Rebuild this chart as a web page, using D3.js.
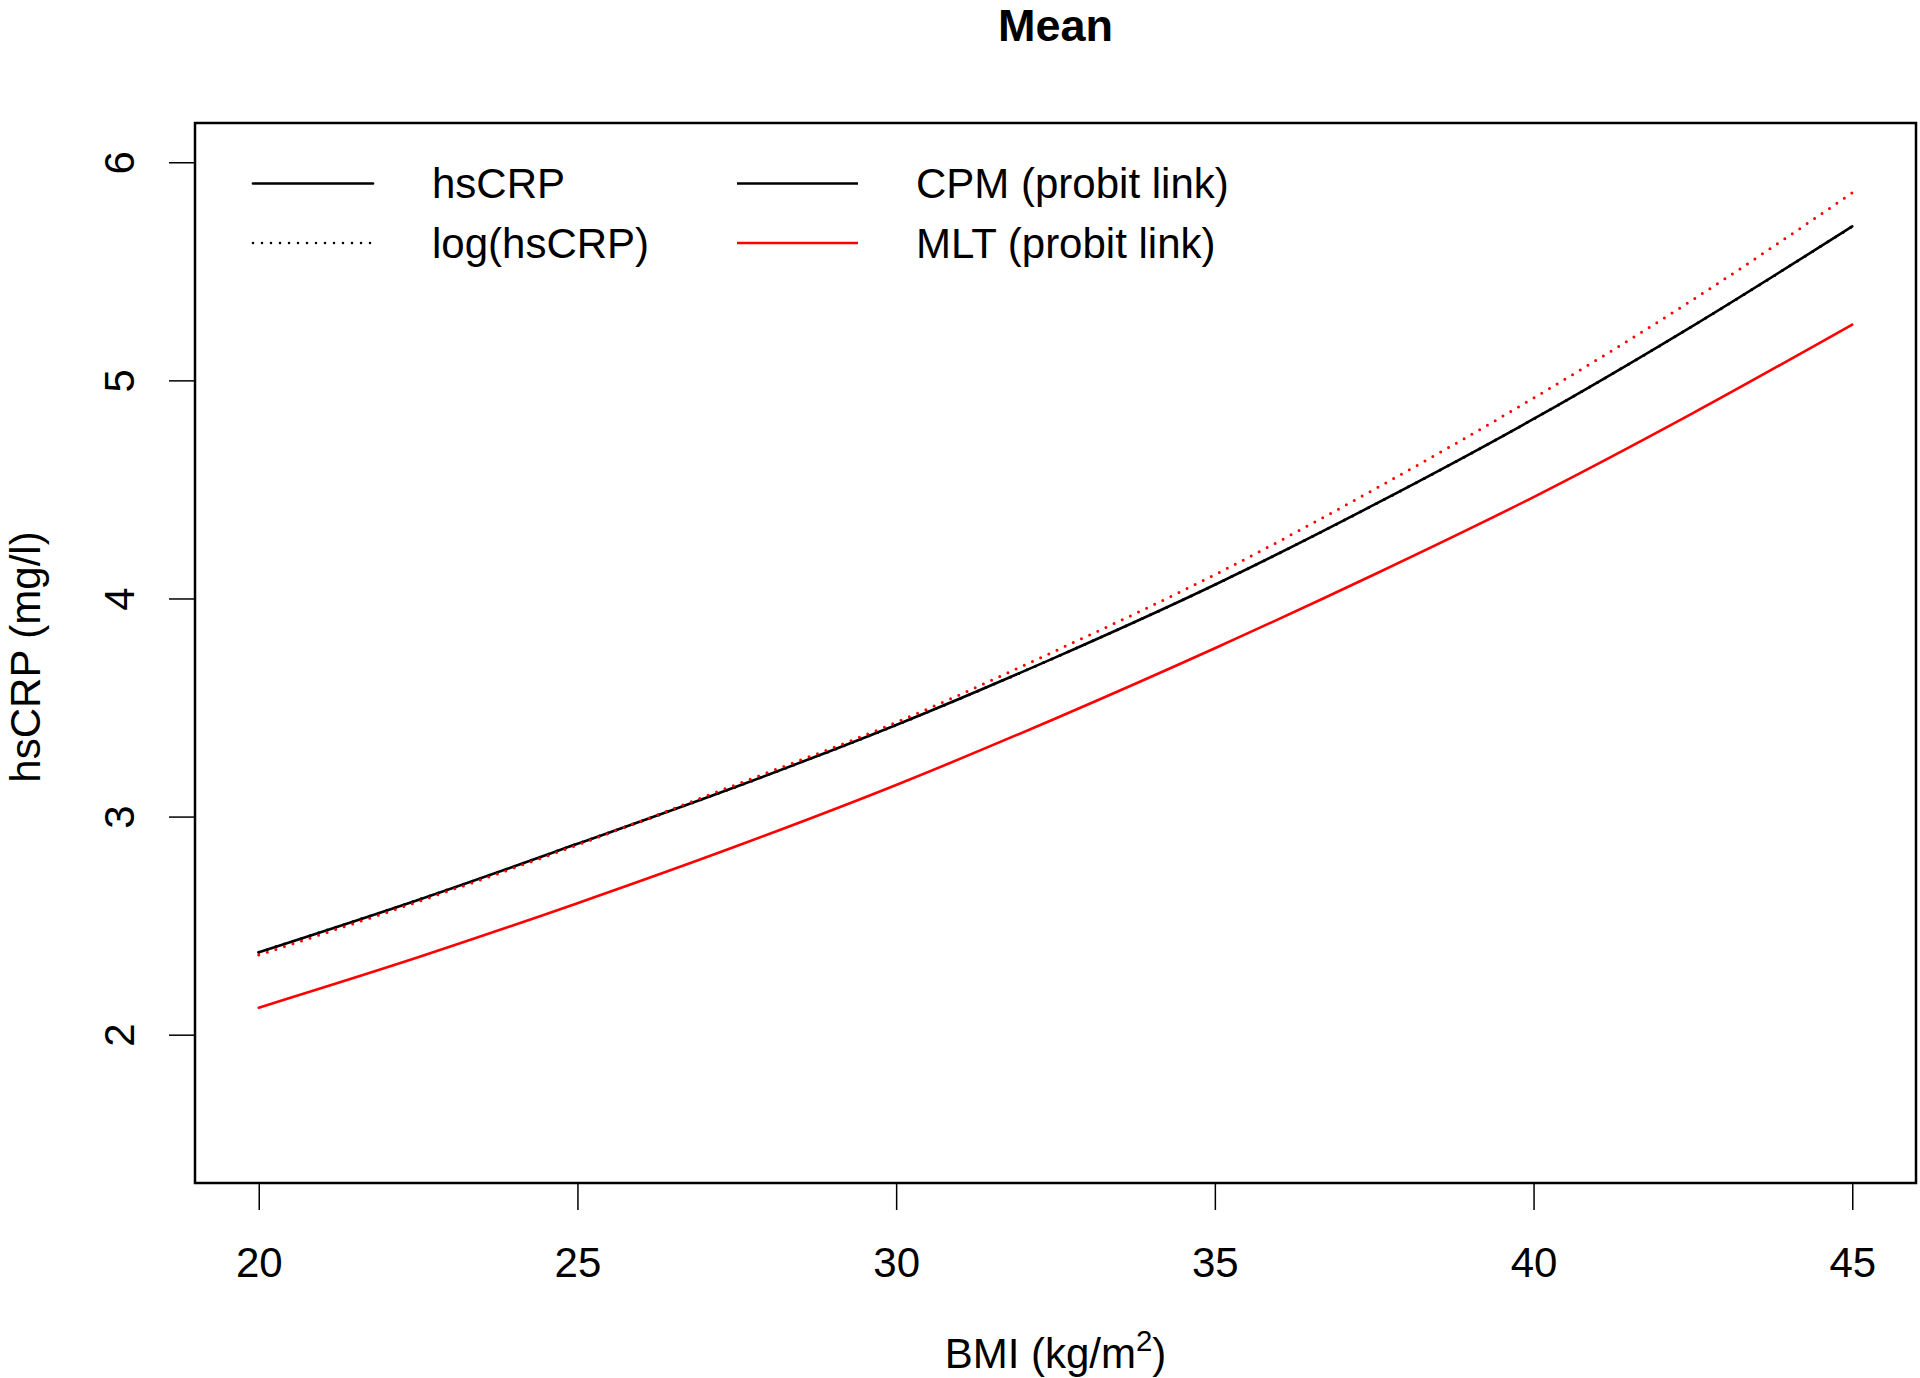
<!DOCTYPE html>
<html>
<head>
<meta charset="utf-8">
<script src="https://cdn.jsdelivr.net/npm/d3@7"></script>
<style>
  html, body { margin: 0; padding: 0; background: #fff; }
  svg { display: block; }
  text { font-family: "Liberation Sans", Arial, Helvetica, sans-serif; fill: #000; }
</style>
</head>
<body>
<svg id="chart" width="1920" height="1378"></svg>
<script>
// ---- data ----
const bmi = [20, 22.5, 25, 27.5, 30, 32.5, 35, 37.5, 40, 42.5, 45];
const cpmHsCRP    = [2.378, 2.618, 2.875, 3.138, 3.420, 3.730, 4.063, 4.430, 4.823, 5.250, 5.706];
const cpmLogHsCRP = [2.378, 2.618, 2.875, 3.138, 3.420, 3.730, 4.063, 4.430, 4.823, 5.250, 5.706];
const mltHsCRP    = [2.124, 2.355, 2.603, 2.865, 3.145, 3.450, 3.772, 4.110, 4.465, 4.850, 5.256];
const mltLogHsCRP = [2.365, 2.610, 2.870, 3.148, 3.432, 3.760, 4.109, 4.500, 4.919, 5.370, 5.860];
const xTicks = [20, 25, 30, 35, 40, 45];
const yTicks = [2, 3, 4, 5, 6];
const legendCol1 = ["hsCRP", "log(hsCRP)"];
const legendCol2 = ["CPM (probit link)", "MLT (probit link)"];

const svg = d3.select("#chart");
const L = 195, R = 1916, T = 123, B = 1183;
const FS = 42;

const x = d3.scaleLinear().domain([19, 46]).range([L, R]);
const y = d3.scaleLinear().domain([1.32, 6.18]).range([B, T]);

// box
svg.append("rect").attr("x", L).attr("y", T).attr("width", R - L).attr("height", B - T)
  .attr("fill", "none").attr("stroke", "#000").attr("stroke-width", 2.5);

// x axis
const xAxis = svg.append("g").attr("transform", `translate(0,${B})`)
  .call(d3.axisBottom(x).tickValues(xTicks).tickSize(27).tickPadding(37).tickFormat(d3.format("d")));
xAxis.select(".domain").remove();
xAxis.selectAll(".tick line").attr("stroke", "#000").attr("stroke-width", 1.5);
xAxis.selectAll(".tick text").attr("font-size", FS).attr("font-family", "Liberation Sans, Arial, sans-serif").attr("fill", "#000");

// y axis
const yAxis = svg.append("g").attr("transform", `translate(${L},0)`)
  .call(d3.axisLeft(y).tickValues(yTicks).tickSize(26).tickFormat(d3.format("d")));
yAxis.select(".domain").remove();
yAxis.selectAll(".tick line").attr("stroke", "#000").attr("stroke-width", 1.5);
yAxis.selectAll(".tick text")
  .attr("font-size", FS).attr("font-family", "Liberation Sans, Arial, sans-serif").attr("fill", "#000")
  .attr("x", null).attr("dy", null)
  .attr("text-anchor", "middle")
  .attr("transform", "translate(-76,0) rotate(-90)")
  .attr("dy", "0.35em");

// title
svg.append("text").attr("x", (L + R) / 2).attr("y", 41).attr("text-anchor", "middle")
  .attr("font-size", 45).attr("font-weight", "bold").text("Mean");

// axis labels
const xl = svg.append("text").attr("x", (L + R) / 2).attr("y", 1368).attr("text-anchor", "middle")
  .attr("font-size", FS);
xl.append("tspan").text("BMI (kg/m");
xl.append("tspan").attr("font-size", FS * 0.7).attr("dy", -17).text("2");
xl.append("tspan").attr("dy", 17).text(")");

svg.append("text").attr("transform", `translate(40,${(T + B) / 2 + 4}) rotate(-90)`)
  .attr("text-anchor", "middle").attr("font-size", FS).text("hsCRP (mg/l)");

// lines
const line = d3.line().x((d, i) => x(bmi[i])).y(d => y(d)).curve(d3.curveMonotoneX);
const series = [
  { v: cpmHsCRP, color: "#000", dash: null },
  { v: mltHsCRP, color: "#ff0000", dash: null },
  { v: cpmLogHsCRP, color: "#000", dash: "0,9" },
  { v: mltLogHsCRP, color: "#ff0000", dash: "0,9" }
];
series.forEach(s => {
  svg.append("path").attr("d", line(s.v)).attr("fill", "none")
    .attr("stroke", s.color).attr("stroke-width", s.dash ? 3 : 2.6)
    .attr("stroke-linecap", "round")
    .attr("stroke-dasharray", s.dash);
});

// legend
const rows = [183.5, 243];
legendCol1.forEach((t, i) => {
  svg.append("line").attr("x1", 253).attr("x2", 373).attr("y1", rows[i]).attr("y2", rows[i])
    .attr("stroke", "#000").attr("stroke-width", i === 0 ? 2.6 : 2.5)
    .attr("stroke-linecap", "round")
    .attr("stroke-dasharray", i === 0 ? null : "0,9");
  svg.append("text").attr("x", 432).attr("y", rows[i]).attr("dy", "0.35em")
    .attr("font-size", FS).text(t);
});
legendCol2.forEach((t, i) => {
  svg.append("line").attr("x1", 737).attr("x2", 858).attr("y1", rows[i]).attr("y2", rows[i])
    .attr("stroke", i === 0 ? "#000" : "#ff0000").attr("stroke-width", 2.6);
  svg.append("text").attr("x", 916).attr("y", rows[i]).attr("dy", "0.35em")
    .attr("font-size", FS).text(t);
});
</script>
</body>
</html>
